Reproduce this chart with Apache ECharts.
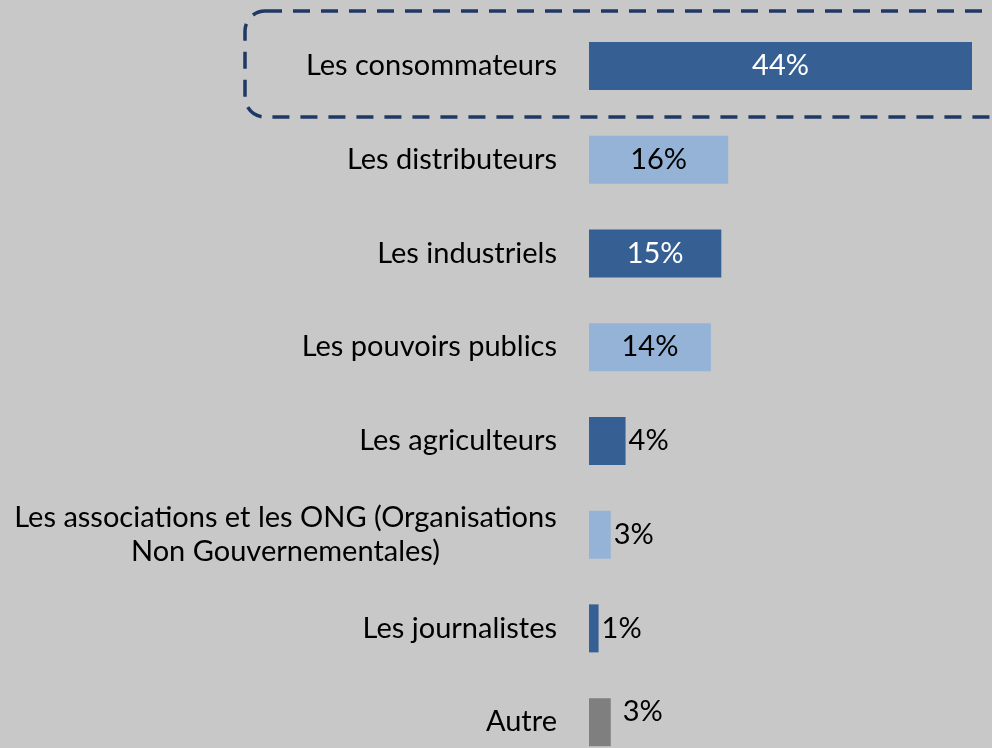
<!DOCTYPE html>
<html>
<head>
<meta charset="utf-8">
<script src="https://cdn.jsdelivr.net/npm/echarts@6/dist/echarts.min.js"></script>
<style>
  html, body { margin: 0; padding: 0; background: #c8c8c8; }
  #chart { width: 992px; height: 748px; }
</style>
</head>
<body>
<div id="chart"></div>
<script>
// catégories, de haut en bas
const categories = [
  'Les consommateurs',
  'Les distributeurs',
  'Les industriels',
  'Les pouvoirs publics',
  'Les agriculteurs',
  'Les associations et les ONG (Organisations\nNon Gouvernementales)',
  'Les journalistes',
  'Autre'
];
// valeurs en %
const values = [44, 16, 15.2, 14, 4.2, 2.5, 1.1, 2.5];
const shades = ['dark', 'light', 'dark', 'light', 'dark', 'light', 'dark', 'grey'];

const colors = { dark: '#365f93', light: '#95b3d7', grey: '#7f7f7f' };
const FONT = 'Lato';
const FSIZE = 29;

// largeur de la plus longue ligne, pour centrer le libellé sur deux lignes
const ctx = document.createElement('canvas').getContext('2d');
ctx.font = FSIZE + 'px ' + FONT;
const longest = Math.ceil(Math.max(...categories.join('\n').split('\n').map(s => ctx.measureText(s).width)));

const chart = echarts.init(document.getElementById('chart'));

const data = values.map((v, i) => {
  const big = v >= 10;
  const item = {
    value: v,
    itemStyle: { color: colors[shades[i]] },
    label: {
      position: big ? 'inside' : 'right',
      distance: 3,
      color: big && shades[i] === 'dark' ? '#ffffff' : '#000000'
    }
  };
  if (shades[i] === 'grey') item.label.offset = [9, -10];
  return item;
});

const option = {
  backgroundColor: '#c8c8c8',
  animation: false,
  grid: { left: 589, right: 20, top: 19, height: 750, containLabel: false, outerBoundsMode: 'none' },
  xAxis: {
    type: 'value',
    min: 0,
    max: 44,
    show: false
  },
  yAxis: {
    type: 'category',
    inverse: true,
    data: categories,
    axisLine: { show: false },
    axisTick: { show: false },
    axisLabel: {
      margin: 32,
      fontFamily: FONT,
      fontSize: FSIZE,
      color: '#000',
      formatter: (v) => v.indexOf('\n') >= 0
        ? v.split('\n').map(s => '{c|' + s + '}').join('\n')
        : v,
      rich: {
        c: { width: longest, align: 'center', fontFamily: FONT, fontSize: FSIZE, lineHeight: 34, color: '#000' }
      }
    }
  },
  series: [{
    type: 'bar',
    barWidth: 48,
    data: data,
    label: {
      show: true,
      fontFamily: FONT,
      fontSize: FSIZE,
      formatter: (p) => Math.round(p.value) + '%'
    }
  }],
  graphic: [{
    type: 'rect',
    shape: { x: 245, y: 11, width: 800, height: 106, r: 20 },
    style: { fill: 'none', stroke: '#1f3864', lineWidth: 3.5, lineDash: [17, 11] },
    z: 10
  }]
};

chart.setOption(option);
</script>
</body>
</html>
